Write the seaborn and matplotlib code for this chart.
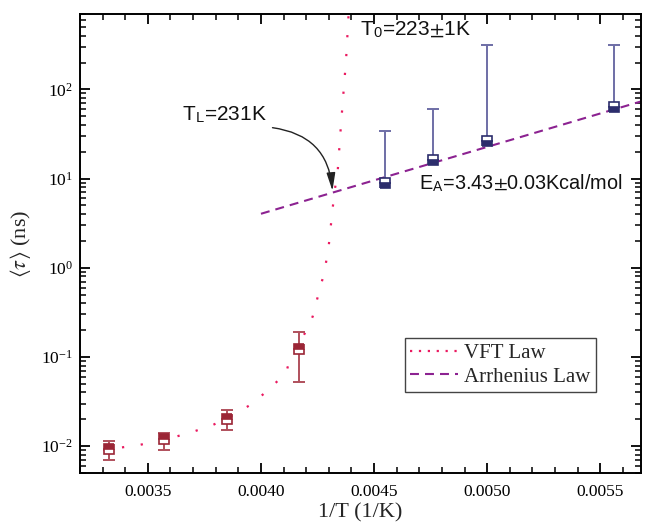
import numpy as np
import pandas as pd
import matplotlib
matplotlib.use("Agg")
import matplotlib.pyplot as plt
import seaborn as sns
from matplotlib.lines import Line2D
from matplotlib.ticker import MultipleLocator, FormatStrFormatter, LogLocator, NullFormatter

# ---------------- data ----------------
red_x = [0.00333, 0.00357, 0.00385, 0.00417]
red_y = [0.0093, 0.0120, 0.0204, 0.123]
red_lo = [0.0070, 0.0091, 0.0151, 0.053]
red_hi = [0.0115, 0.0142, 0.0253, 0.192]

blue_x = [0.00455, 0.00476, 0.00500, 0.00556]
blue_y = [8.9, 16.2, 26.1, 64.0]
blue_hi = [34.5, 60.5, 318.0, 318.0]

vft_x = [0.003303, 0.003384, 0.003465, 0.003545, 0.003627, 0.003707, 0.003788,
         0.003869, 0.003950, 0.004031, 0.004112, 0.004123, 0.004207, 0.004229,
         0.004259, 0.004281, 0.004300, 0.004313, 0.004325, 0.004339, 0.004351,
         0.004362, 0.004376, 0.004387]
vft_y = [0.00902, 0.00967, 0.01034, 0.01146, 0.01284, 0.01471, 0.0173,
         0.0218, 0.0287, 0.0422, 0.0671, 0.086, 0.212, 0.286,
         0.567, 0.90, 1.81, 3.74, 7.13, 11.9, 32.2,
         75.3, 211.0, 671.0]

arr_x = [0.00400, 0.00570]
arr_y = [4.03, 75.8]

legend_labels = ["VFT Law", "Arrhenius Law"]
x_label = "1/T (1/K)"
y_label = r"$\langle\tau\rangle$ (ns)"

# ---------------- style ----------------
sns.set_theme(style="ticks")
plt.rcParams["font.family"] = ["Liberation Serif", "DejaVu Serif"]
plt.rcParams["mathtext.fontset"] = "stix"

red_c = "#9b2636"
red_err = "#b0505c"
blue_c = "#2c2d6c"
blue_err = "#6e6ea6"
vft_c = "#ea1a60"
arr_c = "#8c2291"

fig = plt.figure(figsize=(6.45, 5.27), dpi=100)
ax = fig.add_axes([80 / 645, 1 - 473 / 527, 561 / 645, 459 / 527])
ax.set_yscale("log")

# fit lines
vft_ls = (0, (1, 7.5))
arr_ls = (0, (4.3, 2.9))
sns.lineplot(x=vft_x, y=vft_y, ax=ax, color=vft_c, lw=1.6, linestyle=vft_ls,
             sort=False, estimator=None, legend=False)
sns.lineplot(x=arr_x, y=arr_y, ax=ax, color=arr_c, lw=1.5, linestyle=arr_ls,
             sort=False, estimator=None, legend=False)

# data points
ry = np.array(red_y)
ax.errorbar(red_x, red_y, yerr=[ry - np.array(red_lo), np.array(red_hi) - ry],
            fmt="none", ecolor=red_err, elinewidth=1.4, capsize=4.5, capthick=1.4, zorder=3)
ax.plot(red_x, red_y, ls="none", marker="s", ms=7.8, fillstyle="top",
        markerfacecolor=red_c, markerfacecoloralt="white", markeredgecolor=red_c,
        markeredgewidth=1.2, zorder=4)

by = np.array(blue_y)
ax.errorbar(blue_x, blue_y, yerr=[np.zeros_like(by), np.array(blue_hi) - by],
            fmt="none", ecolor=blue_err, elinewidth=1.4, capsize=4.5, capthick=1.4, zorder=3)
ax.plot(blue_x, blue_y, ls="none", marker="s", ms=7.8, fillstyle="bottom",
        markerfacecolor=blue_c, markerfacecoloralt="white", markeredgecolor=blue_c,
        markeredgewidth=1.2, zorder=4)

# axes limits and ticks
ax.set_xlim(0.0032, 0.00568)
ax.set_ylim(0.005, 700)
ax.xaxis.set_major_locator(MultipleLocator(0.0005))
ax.xaxis.set_minor_locator(MultipleLocator(0.0001))
ax.xaxis.set_major_formatter(FormatStrFormatter("%.4f"))
ax.yaxis.set_major_locator(LogLocator(base=10, numticks=20))
ax.yaxis.set_minor_locator(LogLocator(base=10, subs=np.arange(2, 10), numticks=20))
ax.yaxis.set_minor_formatter(NullFormatter())

ax.tick_params(which="both", direction="in", top=True, right=True, color="black",
               labelcolor="black")
ax.tick_params(which="major", length=7, width=1.3)
ax.tick_params(which="minor", length=4.2, width=1.1)
ax.tick_params(axis="x", which="major", labelsize=12.5, pad=8)
ax.tick_params(axis="y", which="major", labelsize=12.5, pad=5)
for s in ax.spines.values():
    s.set_color("black")
    s.set_linewidth(1.4)

ax.set_xlabel(x_label, fontsize=16, labelpad=2)
ax.set_ylabel(y_label, fontsize=16, labelpad=6)

# annotations
sans = ["Liberation Sans", "DejaVu Sans"]
ax.text(0.00365, 45, r"T$_\mathregular{L}$=231K", family=sans, fontsize=15,
        ha="left", va="baseline", color="#111111")
ax.text(0.004438, 400, r"T$_\mathregular{0}$=223$\pm$1K", family=sans, fontsize=15,
        ha="left", va="baseline", color="#111111")
ax.text(0.00470, 7.67, r"E$_\mathregular{A}$=3.43$\pm$0.03Kcal/mol", family=sans,
        fontsize=14.3, ha="left", va="baseline", color="#111111")
ax.annotate("", xy=(0.004316, 7.3), xytext=(0.004051, 37.2),
            arrowprops=dict(arrowstyle="-|>,head_length=0.9,head_width=0.22",
                            connectionstyle="arc3,rad=-0.4", color="#222222", lw=1.0,
                            shrinkA=0, shrinkB=0))

# legend
handles = [Line2D([], [], color=vft_c, lw=1.6, linestyle=(0, (1, 3))),
           Line2D([], [], color=arr_c, lw=1.5, linestyle=arr_ls)]
leg = ax.legend(handles, legend_labels, loc="upper left", bbox_to_anchor=(0.579, 0.294),
                borderaxespad=0, fontsize=15, frameon=True, fancybox=False,
                framealpha=1, edgecolor="#444444", handlelength=2.3,
                handletextpad=0.3, labelspacing=0.2, borderpad=0.25)
leg.get_frame().set_linewidth(1.0)

fig.savefig("out.png", dpi=100)
